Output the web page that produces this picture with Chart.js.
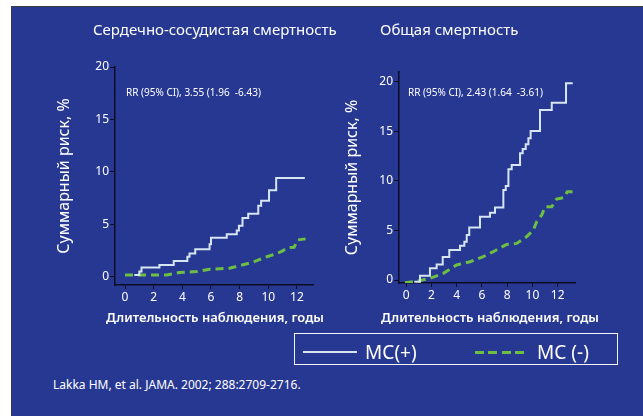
<!DOCTYPE html>
<html>
<head>
<meta charset="utf-8">
<script src="https://cdn.jsdelivr.net/npm/chart.js@4"></script>
<style>
  body { margin: 0; width: 643px; height: 416px; overflow: hidden; background: #fff; font-family: "Noto Sans", sans-serif; }
  #panel { position: absolute; left: 11px; top: 6px; width: 632px; height: 410px; background: #273893; border-left: 1px solid #3c3c3c; border-top: 1px solid #3c3c3c; }
  canvas { position: absolute; }
  .t { position: absolute; color: #fff; white-space: pre; }
  .xt { position: absolute; width: 300px; text-align: center; color: #fff; font-size: 13px; font-weight: 600; line-height: 18px; white-space: pre; }
  #legend { position: absolute; left: 294px; top: 333px; width: 324px; height: 32px; box-sizing: border-box; border: 1.5px solid #f2f4fa; }
</style>
</head>
<body>
<div id="panel"></div>
<canvas id="cvd" width="318" height="310" style="left:12px; top:20px"></canvas>
<canvas id="total" width="313" height="310" style="left:330px; top:20px"></canvas>

<div class="t" style="left:93px; top:19px; font-size:15px; line-height:20px">Сердечно-сосудистая смертность</div>
<div class="t" style="left:380px; top:19px; font-size:15px; line-height:20px">Общая смертность</div>
<div class="t" style="left:126px; top:86px; font-size:10px; line-height:12px">RR (95% CI), 3.55 (1.96  -6.43)</div>
<div class="t" style="left:408px; top:86px; font-size:10px; line-height:12px">RR (95% CI), 2.43 (1.64  -3.61)</div>
<div class="xt" style="left:65px; top:308px">Длительность наблюдения, годы</div>
<div class="xt" style="left:340px; top:308px">Длительность наблюдения, годы</div>

<div id="legend"></div>
<div style="position:absolute; left:303px; top:351px; width:54px; height:2px; background:#d6e6f2"></div>
<div class="t" style="left:365px; top:341px; font-size:19px; line-height:22px">МС(+)</div>
<div style="position:absolute; left:475px; top:351px; width:49px; height:3px; background:repeating-linear-gradient(90deg, #6dbf43 0 9px, transparent 9px 13.5px)"></div>
<div class="t" style="left:537px; top:341px; font-size:19px; line-height:22px">МС (-)</div>

<div class="t" style="left:53px; top:378px; font-size:12px; line-height:14px">Lakka HM, et al. JAMA. 2002; 288:2709-2716.</div>

<script>
// Данные: годы наблюдения и суммарный риск, %
const xTicks = [0, 2, 4, 6, 8, 10, 12];
const yTicks = [0, 5, 10, 15, 20];

// Сердечно-сосудистая смертность
const cvdPlusX = [0.65, 1.0, 1.15, 2.4, 3.4, 4.35, 4.5, 4.9, 5.9, 6.0, 7.1, 7.8, 7.95, 8.2, 8.6, 9.3, 9.5, 10.05, 10.55, 12.55];
const cvdPlusY = [0.15, 0.5, 0.86, 1.1, 1.5, 1.9, 2.2, 2.6, 3.1, 3.7, 4.05, 4.4, 4.85, 5.6, 6.0, 6.75, 7.25, 8.25, 9.4, 9.4];
const cvdMinusX = [0, 2.9, 3.8, 5.0, 5.9, 7.3, 8.0, 8.9, 9.9, 10.6, 11.0, 11.3, 11.8, 12.05, 12.6];
const cvdMinusY = [0.15, 0.15, 0.4, 0.48, 0.7, 0.8, 1.05, 1.37, 1.9, 2.2, 2.45, 2.75, 2.8, 3.5, 3.6];

// Общая смертность
const totPlusX = [0.65, 1.1, 1.89, 2.42, 2.9, 3.42, 4.27, 4.61, 4.8, 5.0, 5.85, 6.64, 7.04, 7.7, 7.89, 8.1, 8.36, 9.02, 9.23, 9.47, 9.68, 9.86, 10.6, 11.53, 12.66, 13.19];
const totPlusY = [-0.17, 0.44, 1.18, 1.58, 2.32, 3.03, 3.47, 3.87, 4.55, 5.29, 6.4, 6.8, 7.31, 9.09, 9.5, 11.18, 11.6, 12.8, 13.23, 13.7, 14.3, 15.05, 17.17, 17.9, 19.87, 19.87];
const totMinusX = [-0.09, 0.97, 1.89, 2.95, 4.0, 5.06, 6.11, 6.9, 7.96, 8.76, 9.55, 10.07, 10.34, 10.74, 11.0, 11.53, 11.92, 12.5, 12.76, 13.24];
const totMinusY = [-0.27, -0.1, 0.17, 0.67, 1.52, 1.85, 2.36, 2.86, 3.6, 3.7, 4.38, 5.05, 5.89, 6.57, 7.4, 7.4, 8.18, 8.32, 8.92, 8.92];

const white = '#d6e6f2';
const green = '#6dbf43';
const axisColor = '#0c0c22';

Chart.defaults.font.family = '"Noto Sans", sans-serif';

function pts(xs, ys) {
    return xs.map((x, i) => ({ x: x, y: ys[i] }));
}

function makeChart(id, c) {
    return new Chart(document.getElementById(id), {
        type: 'line',
        data: {
            datasets: [
                {
                    label: 'МС(+)',
                    data: pts(c.plusX, c.plusY),
                    borderColor: white,
                    borderWidth: 2,
                    stepped: true,
                    pointRadius: 0
                },
                {
                    label: 'МС (-)',
                    data: pts(c.minusX, c.minusY),
                    borderColor: green,
                    borderWidth: 3,
                    borderDash: [8, 5],
                    pointRadius: 0
                }
            ]
        },
        options: {
            responsive: false,
            animation: false,
            layout: { padding: c.padding },
            plugins: { legend: { display: false }, tooltip: { enabled: false } },
            scales: {
                x: {
                    type: 'linear',
                    min: c.xMin,
                    max: c.xMax,
                    afterBuildTicks: ax => { ax.ticks = xTicks.map(v => ({ value: v })); },
                    afterFit: s => { s.height = c.xHeight; },
                    grid: { drawOnChartArea: false, color: axisColor, tickLength: 4 },
                    border: { color: axisColor, width: 1.5 },
                    ticks: { color: '#fff', font: { size: 12 }, padding: 1, autoSkip: false, maxRotation: 0 }
                },
                y: {
                    type: 'linear',
                    min: c.yMin,
                    max: c.yMax,
                    afterBuildTicks: ax => { ax.ticks = yTicks.map(v => ({ value: v })); },
                    afterFit: s => { s.width = c.yWidth; },
                    grid: { drawOnChartArea: false, color: axisColor, tickLength: 5 },
                    border: { color: axisColor, width: 1.5 },
                    ticks: { color: '#fff', font: { size: 12 }, padding: 1, autoSkip: false },
                    title: {
                        display: true,
                        text: 'Суммарный риск, %',
                        color: '#fff',
                        font: { size: 16 },
                        padding: { top: c.yTitlePad, bottom: 0 }
                    }
                }
            }
        }
    });
}

makeChart('cvd', {
    plusX: cvdPlusX, plusY: cvdPlusY, minusX: cvdMinusX, minusY: cvdMinusY,
    xMin: -0.7, xMax: 13.12, yMin: -0.8, yMax: 20,
    padding: { top: 47, right: 17, bottom: 0, left: 0 },
    xHeight: 45, yWidth: 103, yTitlePad: 43
});

makeChart('total', {
    plusX: totPlusX, plusY: totPlusY, minusX: totMinusX, minusY: totMinusY,
    xMin: -0.56, xMax: 13.37, yMin: -0.3, yMax: 21,
    padding: { top: 52, right: 68, bottom: 0, left: 0 },
    xHeight: 47, yWidth: 69, yTitlePad: 13
});
</script>
</body>
</html>
